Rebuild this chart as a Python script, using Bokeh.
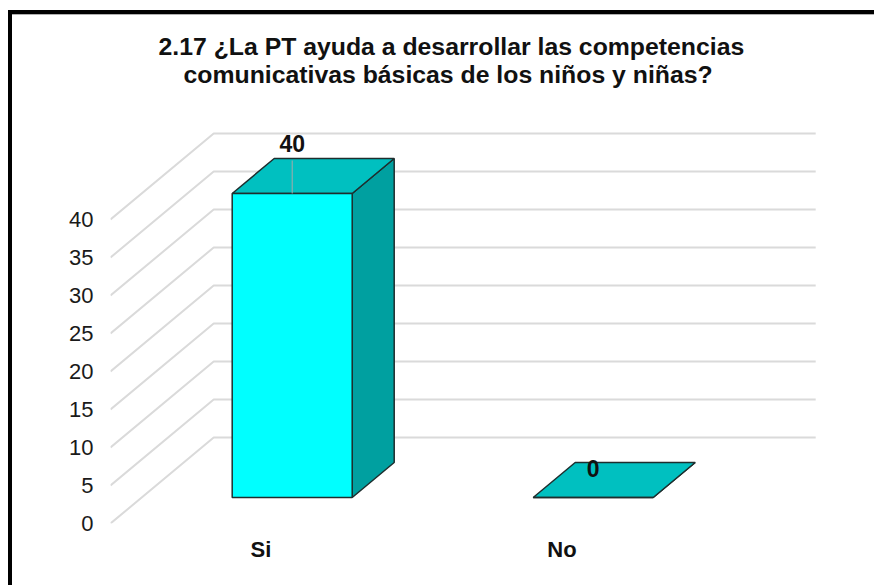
from bokeh.plotting import figure
from bokeh.models import Range1d, FixedTicker, Title
from bokeh.core.properties import value
from bokeh.embed import file_html
from bokeh.resources import INLINE

# ---------------- data ----------------
CATEGORIES = ["Si", "No"]
VALUES = [40, 0]
Y_TICKS = [0, 5, 10, 15, 20, 25, 30, 35, 40]
TITLE_LINES = [
    "2.17 ¿La PT ayuda a desarrollar  las competencias",
    "comunicativas básicas de los niños y niñas?",
]

# ---------------- style / geometry ----------------
W, H = 874, 585
MB_LEFT, MB_RIGHT, MB_TOP, MB_BOTTOM = 110, 44, 87, 62
PX_PER_CAT = 301.0      # horizontal pixels per category slot
PX_PER_VAL = 7.6        # vertical pixels per value unit
DEPTH_SLOPE = 1.2       # dx/dy of the oblique depth direction
WALL_D, BAR_FRONT_D, BAR_BACK_D = 86, 26, 61   # depth in px
BAR_W_PX = 120
LABEL_LIFT_PX = [50, 29]
SANS = "Liberation Sans"
TITLE_OFFSETS = [48, 73]       # px from frame's left edge
TITLE_STANDOFFS = [-2, 0]

frame_w = W - MB_LEFT - MB_RIGHT
frame_h = H - MB_TOP - MB_BOTTOM


def depth(d):
    return DEPTH_SLOPE * d / PX_PER_CAT, d / PX_PER_VAL


p = figure(
    width=W, height=H,
    x_range=Range1d(0, frame_w / PX_PER_CAT),
    y_range=Range1d(0, frame_h / PX_PER_VAL),
    output_backend="svg", toolbar_location=None, title=None,
    min_border_left=MB_LEFT, min_border_right=MB_RIGHT,
    min_border_top=MB_TOP, min_border_bottom=MB_BOTTOM,
    border_fill_color=None, background_fill_color=None,
    outline_line_color=None,
    styles={"box-shadow": ("inset 8px 0 0 0 white, inset 0 10px 0 0 white, "
                           "inset 12px 0 0 0 black, inset 0 14px 0 0 black, "
                           "inset 0 15px 0 0 #b0b0b0")},
)
p.xgrid.visible = False
p.ygrid.visible = False

# title: two lines (added from the frame outward)
for line, off, so in reversed(list(zip(TITLE_LINES, TITLE_OFFSETS, TITLE_STANDOFFS))):
    p.add_layout(Title(text=line, align="left", offset=off, standoff=so,
                       text_font=SANS, text_font_style="bold",
                       text_font_size="24.8px", text_color="#111111"), "above")

# y axis (front plane)
ya = p.yaxis[0]
ya.ticker = FixedTicker(ticks=Y_TICKS)
ya.axis_line_color = None
ya.major_tick_line_color = None
ya.minor_tick_line_color = None
ya.major_tick_out = 0
ya.major_tick_in = 0
ya.minor_tick_out = 0
ya.major_label_standoff = 17
ya.major_label_text_font = SANS
ya.major_label_text_font_size = "22px"
ya.major_label_text_color = "#1a1a1a"

# x axis (categories)
n = len(CATEGORIES)
centers = [i + 0.5 for i in range(n)]
xa = p.xaxis[0]
xa.ticker = FixedTicker(ticks=centers)
xa.major_label_overrides = {c: lab for c, lab in zip(centers, CATEGORIES)}
xa.axis_line_color = None
xa.major_tick_line_color = None
xa.minor_tick_line_color = None
xa.major_tick_out = 0
xa.major_tick_in = 0
xa.minor_tick_out = 0
xa.major_label_standoff = 13
xa.major_label_text_font = SANS
xa.major_label_text_font_style = "bold"
xa.major_label_text_font_size = "22px"
xa.major_label_text_color = "#111111"

# back wall gridlines (diagonal on side + horizontal on back wall)
wx, wy = depth(WALL_D)
grid_xs = [[0, wx, n + wx] for v in Y_TICKS]
grid_ys = [[v, v + wy, v + wy] for v in Y_TICKS]
p.multi_line(grid_xs, grid_ys, line_color="#dadada", line_width=2)

# 3-D bars
fx, fy = depth(BAR_FRONT_D)
bx, by = depth(BAR_BACK_D)
hw = BAR_W_PX / 2 / PX_PER_CAT
front_xs, front_ys, top_xs, top_ys, side_xs, side_ys = [], [], [], [], [], []
for c, v in zip(centers, VALUES):
    l, r = c - hw, c + hw
    front_xs.append([l + fx, r + fx, r + fx, l + fx])
    front_ys.append([fy, fy, fy + v, fy + v])
    top_xs.append([l + fx, r + fx, r + bx, l + bx])
    top_ys.append([fy + v, fy + v, by + v, by + v])
    side_xs.append([r + fx, r + bx, r + bx, r + fx])
    side_ys.append([fy, by, by + v, fy + v])

edge = dict(line_color="#1e2e2e", line_width=1.5)
p.patches(side_xs, side_ys, fill_color="#00a0a0", **edge)
p.patches(top_xs, top_ys, fill_color="#00c0c0", **edge)
p.patches(front_xs, front_ys, fill_color="#00ffff", **edge)

# data labels with leader line
lab_x = [c + fx for c in centers]
lab_y = [fy + v + lift / PX_PER_VAL for v, lift in zip(VALUES, LABEL_LIFT_PX)]
lead_x0, lead_y0, lead_x1, lead_y1 = [], [], [], []
for x, v, lift in zip(lab_x, VALUES, LABEL_LIFT_PX):
    if lift > 35:
        lead_x0.append(x)
        lead_x1.append(x)
        lead_y0.append(fy + v)
        lead_y1.append(fy + v + (lift - 17) / PX_PER_VAL)
p.segment(lead_x0, lead_y0, lead_x1, lead_y1, line_color="#a8a8a8", line_width=1)
p.text(lab_x, lab_y, text=[str(v) for v in VALUES],
       text_align="center", text_baseline="middle",
       text_font=value(SANS), text_font_style="bold",
       text_font_size="23px", text_color="#111111")

open("out.html", "w").write(file_html(p, INLINE))
